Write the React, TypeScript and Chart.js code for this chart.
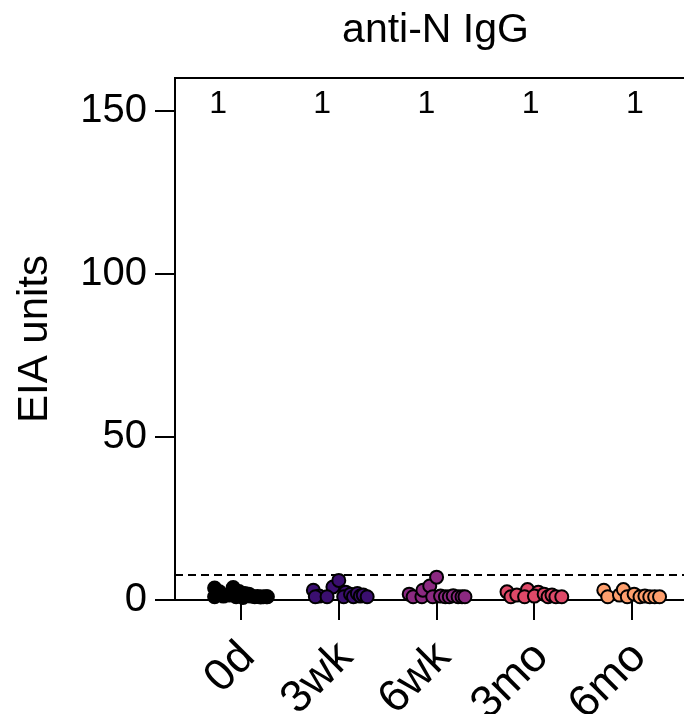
import React, { useEffect, useRef } from 'react';
import { Chart, registerables } from 'chart.js';

Chart.register(...registerables);

// ---- data ----
const categories = ['0d', '3wk', '6wk', '3mo', '6mo'];

const values0d = [3.7, 1.0, 2.5, 1.2, 3.8, 1.5, 2.6, 1.0, 2.0, 1.8, 1.2, 1.0, 1.1, 0.9, 1.0, 1.0, 0.8, 1.0];
const jitter0d = [-0.27, -0.27, -0.22, -0.18, -0.08, -0.12, -0.02, -0.05, 0.04, 0.08, 0.1, 0.14, 0.17, 0.2, 0.23, 0.26, 0.02, 0.27];

const values3wk = [3.0, 1.2, 1.0, 4.0, 6.0, 2.4, 1.0, 1.8, 1.0, 2.0, 1.2, 1.5, 1.0, 1.0];
const jitter3wk = [-0.26, -0.2, -0.24, -0.06, 0.0, 0.07, 0.05, 0.12, 0.15, 0.19, 0.22, 0.25, 0.29, -0.12];

const values6wk = [1.8, 1.0, 1.0, 3.0, 4.3, 7.0, 1.0, 1.2, 1.0, 1.0, 1.3, 1.0, 1.0, 1.0];
const jitter6wk = [-0.28, -0.24, -0.15, -0.14, -0.07, 0.0, -0.04, 0.04, 0.09, 0.13, 0.17, 0.22, 0.26, 0.29];

const values3mo = [2.5, 1.0, 1.5, 3.2, 1.0, 2.4, 1.2, 1.8, 1.0, 1.5, 1.0, 1.0];
const jitter3mo = [-0.28, -0.24, -0.18, -0.07, -0.1, 0.04, 0.0, 0.1, 0.14, 0.18, 0.22, 0.28];

const values6mo = [3.0, 1.0, 1.5, 3.2, 1.0, 1.8, 1.0, 1.2, 1.0, 1.0, 1.0];
const jitter6mo = [-0.29, -0.25, -0.13, -0.09, -0.05, 0.02, 0.08, 0.13, 0.18, 0.23, 0.28];

const countLabels = ['1', '1', '1', '1', '1'];
const cutoffValue = 7.7;
const yTickValues = [0, 50, 100, 150];
const yMax = 160;
const xMin = -0.675;
const xMax = 4.53;

const groupValues = [values0d, values3wk, values6wk, values3mo, values6mo];
const groupJitter = [jitter0d, jitter3wk, jitter6wk, jitter3mo, jitter6mo];

const FONT = "'Liberation Sans', Arial, Helvetica, sans-serif";
const COLORS = ['#000000', '#3b0f70', '#8c2981', '#de4968', '#fe9f6d'];

export default function App() {
  const ref = useRef<HTMLCanvasElement | null>(null);

  useEffect(() => {
    if (!ref.current) return;

    const datasets: any[] = groupValues.map((vals, i) => ({
      type: 'scatter',
      label: categories[i],
      data: vals.map((v, j) => ({ x: i + groupJitter[i][j], y: v })),
      backgroundColor: COLORS[i],
      borderColor: '#000000',
      borderWidth: 2,
      pointRadius: 6.5,
      clip: false,
    }));

    datasets.push({
      type: 'line',
      label: 'cutoff',
      data: [
        { x: xMin, y: cutoffValue },
        { x: xMax, y: cutoffValue },
      ],
      borderColor: '#000000',
      borderWidth: 2,
      borderDash: [8, 5],
      pointRadius: 0,
      fill: false,
    });

    const extras = {
      id: 'extras',
      afterDraw(chart: any) {
        const { ctx, chartArea } = chart;
        const xs = chart.scales.x;
        ctx.save();
        // top frame
        ctx.strokeStyle = '#000';
        ctx.lineWidth = 2;
        ctx.beginPath();
        ctx.moveTo(chartArea.left - 1, chartArea.top);
        ctx.lineTo(chartArea.right, chartArea.top);
        ctx.stroke();
        // title
        ctx.fillStyle = '#000';
        ctx.font = `41px ${FONT}`;
        ctx.textAlign = 'center';
        ctx.textBaseline = 'alphabetic';
        ctx.fillText('anti-N IgG', (chartArea.left + chartArea.right) / 2 + 6, 42);
        // count labels
        ctx.font = `32px ${FONT}`;
        countLabels.forEach((t, i) => {
          const px = xs.getPixelForValue(i * 1.066 - 0.235);
          ctx.fillText(t, px, chartArea.top + 35);
        });
        ctx.restore();
      },
    };

    const chart = new Chart(ref.current, {
      type: 'scatter',
      data: { datasets },
      options: {
        responsive: false,
        animation: false,
        layout: { autoPadding: false, padding: { top: 78, left: 0, right: 0, bottom: 0 } },
        plugins: { legend: { display: false }, tooltip: { enabled: false }, title: { display: false } },
        scales: {
          x: {
            type: 'linear',
            min: xMin,
            max: xMax,
            afterBuildTicks: (s: any) => {
              s.ticks = categories.map((_, i) => ({ value: i }));
            },
            afterFit: (s: any) => {
              s.height = 114;
              s.paddingLeft = 0;
              s.paddingRight = 0;
            },
            ticks: {
              callback: (v: any) => categories[Math.round(Number(v))] ?? '',
              minRotation: 45,
              maxRotation: 45,
              autoSkip: false,
              color: '#000',
              font: { family: FONT, size: 45 },
              padding: 11,
              labelOffset: 7,
            },
            grid: { drawOnChartArea: false, drawTicks: true, tickLength: 20, color: '#000', lineWidth: 2 },
            border: { color: '#000', width: 2 },
          },
          y: {
            type: 'linear',
            min: 0,
            max: yMax,
            afterBuildTicks: (s: any) => {
              s.ticks = yTickValues.map((v) => ({ value: v }));
            },
            afterFit: (s: any) => {
              s.width = 175;
            },
            ticks: {
              color: '#000',
              font: { family: FONT, size: 40 },
              padding: 8,
            },
            grid: { drawOnChartArea: false, drawTicks: true, tickLength: 20, color: '#000', lineWidth: 2 },
            border: { color: '#000', width: 2 },
            title: {
              display: true,
              text: 'EIA units',
              color: '#000',
              font: { family: FONT, size: 42 },
              padding: { top: 10, bottom: 0 },
            },
          },
        },
      },
      plugins: [extras],
    } as any);

    return () => chart.destroy();
  }, []);

  return (
    <div style={{ position: 'fixed', left: 0, top: 0, width: 684, height: 714, background: '#fff' }}>
      <canvas ref={ref} width={684} height={714} style={{ width: 684, height: 714 }} />
    </div>
  );
}
